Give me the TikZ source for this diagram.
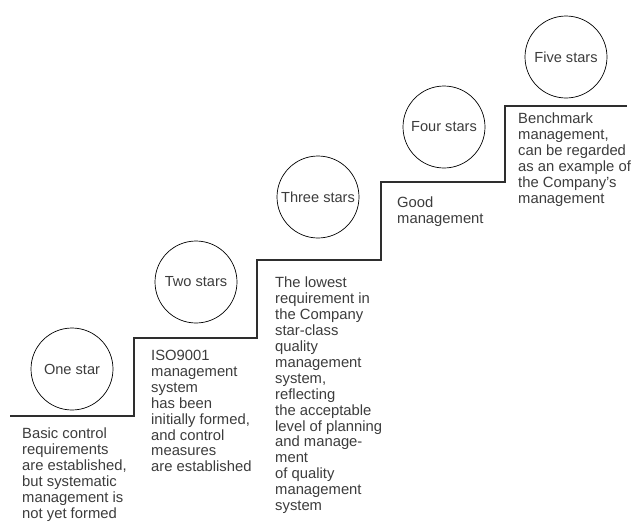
\documentclass[tikz,border=0pt]{standalone}
\usepackage{fontspec}
\setmainfont{Liberation Sans}
\definecolor{txt}{HTML}{3C3C3C}
\definecolor{stairc}{HTML}{2E2E2E}
\begin{document}
\begin{tikzpicture}[x=1pt,y=-1pt,
  star/.style={circle,draw=black,line width=0.7pt,minimum size=82pt,inner sep=0pt,
    font=\fontsize{14.6}{15.9}\selectfont,text=txt},
  desc/.style={anchor=north west,align=left,inner sep=0pt,
    font=\fontsize{14.8}{15.9}\selectfont,text=txt},
  stair/.style={draw=stairc,line width=1.2pt}]
\useasboundingbox (0,0) rectangle (632,523);

% staircase corners
\coordinate (s0) at (10,416);
\coordinate (s1) at (134,416);
\coordinate (s2) at (134,338);
\coordinate (s3) at (257,338);
\coordinate (s4) at (257,260);
\coordinate (s5) at (381,260);
\coordinate (s6) at (381,182);
\coordinate (s7) at (505,182);
\coordinate (s8) at (505,106);
\coordinate (s9) at (627,106);
\draw[stair] (s0) -- (s1) -- (s2) -- (s3) -- (s4) -- (s5) -- (s6) -- (s7) -- (s8) -- (s9);

% star levels
\node[star] (one)   at (72,369)  {One star};
\node[star] (two)   at (196,282) {Two stars};
\node[star] (three) at (318,197) {Three stars};
\node[star] (four)  at (444,127) {Four stars};
\node[star] (five)  at (566,57)  {Five stars};

% descriptions
\node[desc] (d1) at (22,428) {Basic control\\requirements\\are established,\\but systematic\\management is\\not yet formed};
\node[desc] (d2) at (151,350) {ISO9001\\management\\system\\has been\\initially formed,\\and control\\measures\\are established};
\node[desc] (d3) at (275,277) {The lowest\\requirement in\\the Company\\star-class\\quality\\management\\system,\\reflecting\\the acceptable\\level of planning\\and manage-\\ment\\of quality\\management\\system};
\node[desc] (d4) at (397,197) {Good\\management};
\node[desc] (d5) at (518,113) {Benchmark\\management,\\can be regarded\\as an example of\\the Company's\\management};
\end{tikzpicture}
\end{document}
